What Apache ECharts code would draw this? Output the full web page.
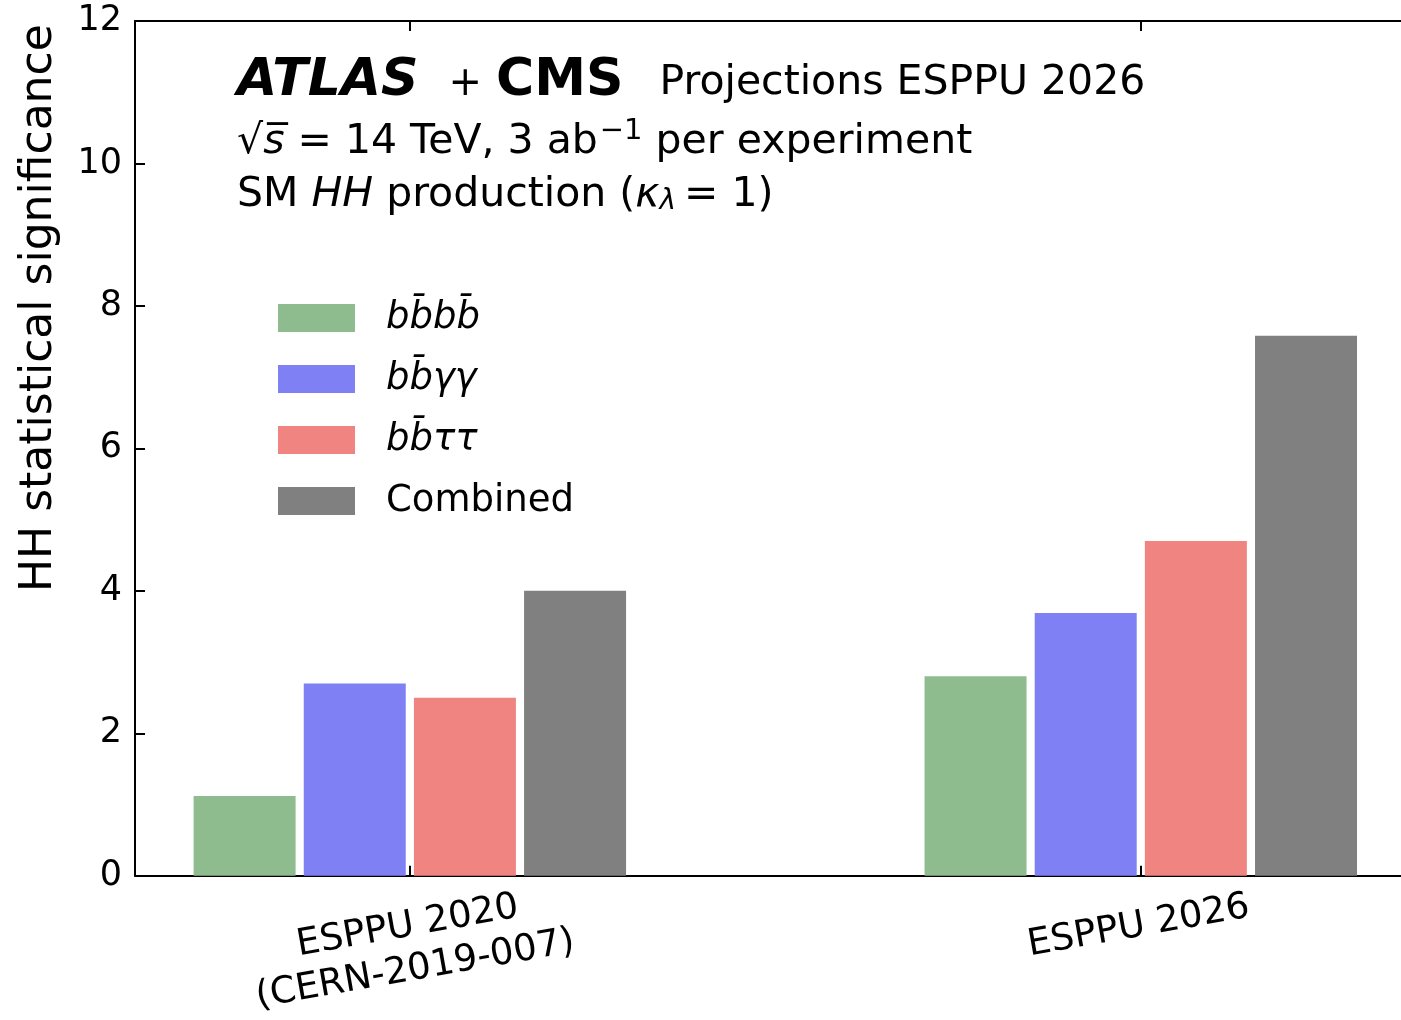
<!DOCTYPE html>
<html>
<head>
<meta charset="utf-8">
<script src="https://cdn.jsdelivr.net/npm/echarts@6/dist/echarts.min.js"></script>
<style>
  html, body { margin: 0; padding: 0; background: #fff; }
  #chart { width: 1401px; height: 1020px; }
</style>
</head>
<body>
<div id="chart"></div>
<script>
// categories and values
const categories = ['ESPPU 2020\n(CERN-2019-007)', 'ESPPU 2026']
const seriesNames = ['bb\u0304bb\u0304', 'bb\u0304\u03b3\u03b3', 'bb\u0304\u03c4\u03c4', 'Combined']
const bbbb = [1.12, 2.80]
const bbyy = [2.70, 3.69]
const bbtt = [2.50, 4.70]
const combined = [4.00, 7.58]
const colors = ['#8fbc8f', '#8080f5', '#f08480', '#808080']

const FONT = 'DejaVu Sans'
const values = [bbbb, bbyy, bbtt, combined]

const chart = echarts.init(document.getElementById('chart'))

const axisCommon = {
  type: 'value',
  min: -0.376,
  max: 1.356,
  splitLine: {show: false},
  axisLine: {onZero: false, lineStyle: {color: '#000', width: 2}},
  axisTick: {inside: true, length: 10, customValues: [0, 1], lineStyle: {color: '#000', width: 2}}
}

const option = {
  animation: false,
  backgroundColor: '#fff',
  grid: {left: 135, top: 21, right: 0, height: 857},
  legend: {
    orient: 'vertical',
    left: 273,
    top: 293,
    itemWidth: 77,
    itemHeight: 28,
    itemGap: 21,
    icon: 'rect',
    data: seriesNames,
    formatter: name => name === 'Combined' ? name : '{i|' + name + '}',
    textStyle: {
      fontFamily: FONT,
      fontSize: 37,
      lineHeight: 40,
      color: '#000',
      padding: [0, 0, 0, 26],
      rich: {
        i: {fontFamily: FONT, fontSize: 37, fontStyle: 'italic', color: '#000', lineHeight: 40}
      }
    }
  },
  xAxis: [
    Object.assign({}, axisCommon, {
      position: 'bottom',
      axisLabel: {
        customValues: [0, 1],
        formatter: v => categories[Math.round(v)],
        rotate: 10,
        align: 'center',
        verticalAlign: 'top',
        margin: 28,
        padding: [0, 12, 0, 0],
        fontFamily: FONT,
        fontSize: 37,
        lineHeight: 44,
        color: '#000'
      }
    }),
    Object.assign({}, axisCommon, {
      position: 'top',
      axisLabel: {show: false}
    })
  ],
  yAxis: {
    type: 'value',
    min: 0,
    max: 12,
    interval: 2,
    splitLine: {show: false},
    axisLine: {onZero: false, lineStyle: {color: '#000', width: 2}},
    axisTick: {inside: true, length: 10, lineStyle: {color: '#000', width: 2}},
    axisLabel: {margin: 13, fontFamily: FONT, fontSize: 35, color: '#000'}
  },
  series: seriesNames.map((name, i) => ({
    name: name,
    type: 'bar',
    xAxisIndex: 0,
    barWidth: 102,
    barGap: '8%',
    itemStyle: {color: colors[i]},
    data: values[i].map((v, k) => [k, v])
  })),
  graphic: [
    {
      type: 'text',
      x: 40,
      y: 592,
      rotation: Math.PI / 2,
      style: {
        text: 'HH statistical significance',
        fontFamily: FONT,
        fontSize: 44,
        fill: '#000',
        align: 'left',
        verticalAlign: 'middle',
        textAlign: 'left',
        textVerticalAlign: 'middle'
      }
    },
    {
      type: 'text',
      x: 237,
      y: 55,
      style: {
        text: '{atlas|ATLAS}{plus|+}{cms|CMS}{r|Projections ESPPU 2026}',
        fill: '#000',
        rich: {
          atlas: {fontFamily: FONT, fontSize: 52, fontWeight: 'bold', fontStyle: 'italic', lineHeight: 52, verticalAlign: 'bottom', padding: [0, 30, 0, 0]},
          plus: {fontFamily: FONT, fontSize: 40, lineHeight: 52, verticalAlign: 'bottom', padding: [0, 14, 2, 0]},
          cms: {fontFamily: FONT, fontSize: 52, fontWeight: 'bold', lineHeight: 52, verticalAlign: 'bottom', padding: [0, 36, 0, 0]},
          r: {fontFamily: FONT, fontSize: 41, lineHeight: 52, verticalAlign: 'bottom', padding: [0, 0, 3, 0]}
        }
      }
    },
    {
      type: 'text',
      x: 237,
      y: 117,
      style: {
        text: '{r|\u221a}{i|s\u0305}{r| = 14 TeV, 3 ab}{sup|\u22121}{r| per experiment}',
        fill: '#000',
        rich: {
          r: {fontFamily: FONT, fontSize: 41, lineHeight: 46, verticalAlign: 'bottom'},
          i: {fontFamily: FONT, fontSize: 41, fontStyle: 'italic', lineHeight: 46, verticalAlign: 'bottom'},
          sup: {fontFamily: FONT, fontSize: 29, lineHeight: 46, verticalAlign: 'top', padding: [0, 0, 0, 2]}
        }
      }
    },
    {
      type: 'text',
      x: 237,
      y: 170,
      style: {
        text: '{r|SM }{i|HH}{r| production (}{i|\u03ba}{sub|\u03bb}{r|= 1)}',
        fill: '#000',
        rich: {
          r: {fontFamily: FONT, fontSize: 41, lineHeight: 46, verticalAlign: 'bottom'},
          i: {fontFamily: FONT, fontSize: 41, fontStyle: 'italic', lineHeight: 46, verticalAlign: 'bottom'},
          sub: {fontFamily: FONT, fontSize: 28, fontStyle: 'italic', lineHeight: 46, verticalAlign: 'bottom', padding: [0, 8, 0, 0]}
        }
      }
    }
  ]
}

chart.setOption(option)
</script>
</body>
</html>
